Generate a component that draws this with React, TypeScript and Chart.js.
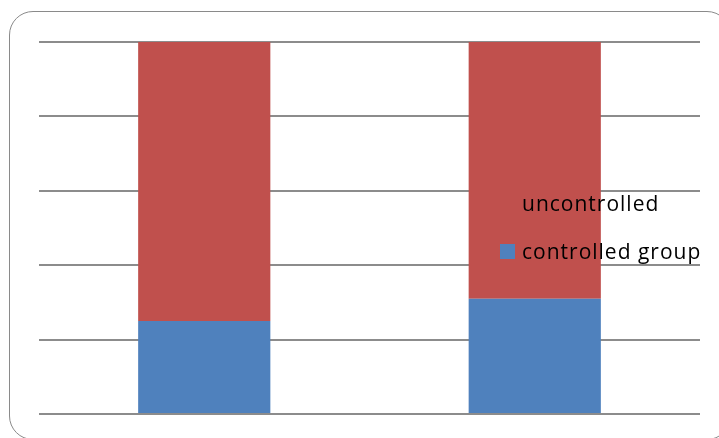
import React, { useEffect, useRef } from "react";
import { Chart, registerables } from "chart.js";

Chart.register(...registerables);

const categories = ["Group A", "Group B"];
const controlledValues = [25, 31];
const uncontrolledValues = [75, 69];
const seriesLabels = ["controlled group", "uncontrolled"];

const legendPlugin = {
  id: "sideLegend",
  afterDraw(chart: any) {
    const ctx = chart.ctx;
    const ds = chart.data.datasets;
    const items = [
      { label: ds[1].label, color: ds[1].backgroundColor, y: 211 },
      { label: ds[0].label, color: ds[0].backgroundColor, y: 259 },
    ];
    ctx.save();
    ctx.font = "21px 'Open Sans'";
    try {
      (ctx as any).letterSpacing = "1px";
    } catch (e) {}
    ctx.textBaseline = "alphabetic";
    ctx.textAlign = "left";
    for (const it of items) {
      ctx.fillStyle = it.color;
      ctx.fillRect(500, it.y - 15, 15, 15);
      ctx.fillStyle = "#000";
      ctx.fillText(it.label, 522, it.y);
    }
    ctx.restore();
  },
};

export default function App() {
  const ref = useRef<HTMLCanvasElement | null>(null);
  useEffect(() => {
    if (!ref.current) return;
    const chart = new Chart(ref.current, {
      type: "bar",
      data: {
        labels: categories,
        datasets: [
          {
            label: seriesLabels[0],
            data: controlledValues,
            backgroundColor: "#4F81BD",
            barPercentage: 0.4,
            categoryPercentage: 1,
          },
          {
            label: seriesLabels[1],
            data: uncontrolledValues,
            backgroundColor: "#C0504D",
            barPercentage: 0.4,
            categoryPercentage: 1,
          },
        ],
      },
      options: {
        animation: false,
        responsive: false,
        maintainAspectRatio: false,
        layout: { padding: { left: 39, right: 19, top: 42, bottom: 16 } },
        plugins: { legend: { display: false }, tooltip: { enabled: false } },
        scales: {
          x: {
            stacked: true,
            ticks: { display: false },
            grid: { display: false },
            border: { display: false },
          },
          y: {
            stacked: true,
            min: 0,
            max: 100,
            ticks: { display: false, stepSize: 20 },
            grid: { color: "#8c8c8c", lineWidth: 2, drawTicks: false },
            border: { display: false },
          },
        },
      },
      plugins: [legendPlugin],
    });
    return () => chart.destroy();
  }, []);
  return (
    <div style={{ position: "fixed", left: 0, top: 0, width: 719, height: 438, overflow: "hidden", background: "#fff" }}>
      <div
        style={{
          position: "absolute",
          left: 9,
          top: 11,
          width: 722,
          height: 429,
          border: "1.5px solid #8a8a8a",
          borderRadius: 24,
          boxSizing: "border-box",
        }}
      />
      <canvas ref={ref} width={719} height={438} style={{ position: "absolute", left: 0, top: 0 }} />
    </div>
  );
}
